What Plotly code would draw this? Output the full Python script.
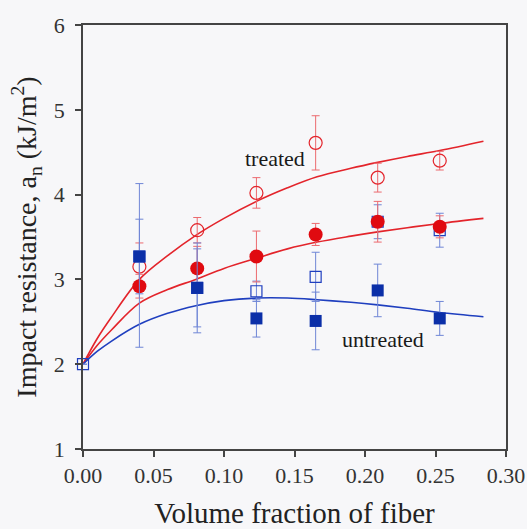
import plotly.graph_objects as go

# Volume fraction of fiber for each measured composite
vf = [0.0, 0.040, 0.081, 0.123, 0.165, 0.209, 0.253]

# Treated fiber, open circles
treated_open = [3.15, 3.58, 4.02, 4.61, 4.20, 4.40]
treated_open_err = [0.28, 0.15, 0.18, 0.32, 0.17, 0.11]

# Treated fiber, filled circles
treated_fill = [2.92, 3.13, 3.27, 3.53, 3.68, 3.62]
treated_fill_err = [0.14, 0.26, 0.30, 0.13, 0.24, 0.13]

# Untreated fiber, open squares (includes the unfilled matrix at 0)
untreated_open = [2.00, 3.27, 2.90, 2.86, 3.03, 3.68, 3.58]
untreated_open_err = [0.0, 0.44, 0.46, 0.12, 0.29, 0.20, 0.20]

# Untreated fiber, filled squares (asymmetric spread)
untreated_fill = [3.27, 2.90, 2.54, 2.51, 2.87, 2.54]
untreated_fill_up = [0.86, 0.53, 0.22, 0.34, 0.31, 0.20]
untreated_fill_down = [1.07, 0.53, 0.22, 0.34, 0.31, 0.20]

# Fitted trend curves
fit_x = [0.0, 0.01, 0.02, 0.04, 0.06, 0.08, 0.10, 0.123, 0.145, 0.166,
         0.19, 0.209, 0.23, 0.253, 0.284]
fit_treated_open = [2.0, 2.30, 2.55, 3.00, 3.28, 3.52, 3.72, 3.92, 4.08,
                    4.21, 4.31, 4.38, 4.45, 4.52, 4.63]
fit_treated_fill = [2.0, 2.22, 2.40, 2.72, 2.88, 3.00, 3.13, 3.25, 3.36,
                    3.44, 3.51, 3.56, 3.61, 3.66, 3.72]
fit_untreated = [2.0, 2.15, 2.27, 2.47, 2.60, 2.69, 2.75, 2.78, 2.78,
                 2.76, 2.73, 2.70, 2.66, 2.61, 2.56]

RED = "#e3242b"
RED_LIGHT = "#ec6a6f"
BLUE = "#1f3fbf"
BLUE_LIGHT = "#6f86d6"
SERIF = "Liberation Serif"

fig = go.Figure()

for ys, col in [(fit_treated_open, RED), (fit_treated_fill, RED),
                (fit_untreated, BLUE)]:
    fig.add_trace(go.Scatter(x=fit_x, y=ys, mode="lines",
                             line=dict(color=col, width=1.6, shape="spline"),
                             hoverinfo="skip"))


def err(vals, col, minus=None):
    e = dict(type="data", array=vals, visible=True, color=col,
             thickness=1, width=4)
    if minus is not None:
        e["symmetric"] = False
        e["arrayminus"] = minus
    return e


fig.add_trace(go.Scatter(
    x=vf[1:], y=treated_open, mode="markers",
    error_y=err(treated_open_err, RED_LIGHT),
    marker=dict(symbol="circle-open", size=13, color=RED,
                line=dict(width=1.2))))

fig.add_trace(go.Scatter(
    x=vf, y=untreated_open, mode="markers", cliponaxis=False,
    error_y=err(untreated_open_err, BLUE_LIGHT),
    marker=dict(symbol="square-open", size=11, color=BLUE,
                line=dict(width=1.2))))

fig.add_trace(go.Scatter(
    x=vf[1:], y=treated_fill, mode="markers",
    error_y=err(treated_fill_err, RED_LIGHT),
    marker=dict(symbol="circle", size=14, color="#e00a10")))

fig.add_trace(go.Scatter(
    x=vf[1:], y=untreated_fill, mode="markers",
    error_y=err(untreated_fill_up, BLUE_LIGHT, untreated_fill_down),
    marker=dict(symbol="square", size=12, color="#0b2fa8")))

fig.add_annotation(x=0.136, y=4.42, text="treated", showarrow=False,
                   font=dict(family=SERIF, size=22, color="#1a1a1a"))
fig.add_annotation(x=0.213, y=2.29, text="untreated", showarrow=False,
                   font=dict(family=SERIF, size=22, color="#1a1a1a"))

axis_common = dict(showline=True, linecolor="#444", linewidth=1.5,
                   mirror=True, ticks="outside", ticklen=6, tickwidth=1.5,
                   tickcolor="#444", showgrid=False, zeroline=False,
                   automargin=False,
                   tickfont=dict(family=SERIF, size=22, color="#333"))

fig.update_layout(
    width=527, height=529,
    margin=dict(l=83, r=21, t=25, b=80),
    paper_bgcolor="#f7f7f9", plot_bgcolor="#f7f7f9",
    showlegend=False,
    xaxis=dict(range=[0, 0.30], dtick=0.05, tick0=0, tickformat=".2f",
               title=dict(text="Volume fraction of fiber", standoff=16,
                          font=dict(family=SERIF, size=29, color="#222")),
               **axis_common),
    yaxis=dict(range=[1, 6], dtick=1, tick0=1, ticklabelstandoff=6,
               title=dict(text="Impact resistance, a<sub>n</sub> (kJ/m<sup>2</sup>)",
                          standoff=9,
                          font=dict(family=SERIF, size=28, color="#222")),
               **axis_common),
)

fig.write_html("out.html")
